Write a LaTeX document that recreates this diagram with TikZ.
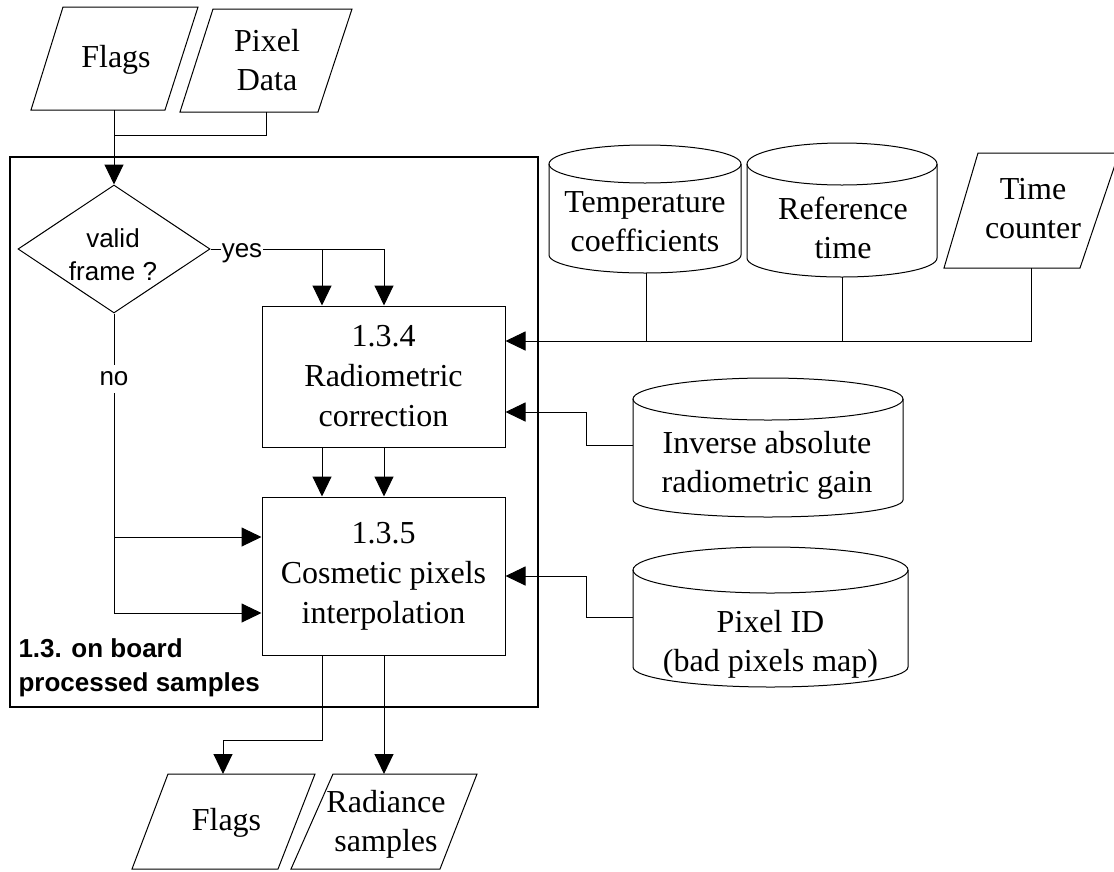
\documentclass[tikz,border=0pt]{standalone}
\usepackage{fontspec}
\setmainfont{Liberation Serif}
\setsansfont{Liberation Sans}
\usetikzlibrary{arrows.meta,shapes.geometric}
\begin{document}
\begin{tikzpicture}[x=1pt,y=-1pt,
  line width=1pt,
  flow/.style={-{Triangle[length=20pt,width=19pt]}},
  procbox/.style={draw, rectangle, inner sep=0pt, minimum width=243pt,
    align=center, font=\fontsize{32}{40}\selectfont},
  serif/.style={align=center, inner sep=0pt, font=\fontsize{32}{39}\selectfont},
  sanstext/.style={align=center, inner sep=0pt, font=\sffamily\fontsize{26}{33}\selectfont},
  decision/.style={draw, diamond, inner sep=0pt, minimum width=192pt, minimum height=128pt},
  gaplabel/.style={fill=white, inner xsep=1pt, inner ysep=7pt,
    font=\sffamily\fontsize{26}{30}\selectfont},
]
\useasboundingbox (0,0) rectangle (1114,871);

% ---- input documents ----
\draw (63,7) -- (198,7) -- (165,110) -- (31,110) -- cycle;
\node[serif] (flagsin) at (116,60) {Flags};
\coordinate (flagsin-s) at (114,110);
\draw (213,9) -- (352,9) -- (318,112) -- (180,112) -- cycle;
\node[serif] (pixdata) at (267,60) {Pixel\\Data};
\coordinate (pixdata-s) at (266,112);
\coordinate (merge) at (114,135);

% ---- processing frame ----
\draw[line width=2.6pt] (10,157) rectangle (538,707);
\node[sanstext, font=\sffamily\bfseries\fontsize{26}{34}\selectfont, align=left, anchor=west]
  (title) at (18,668) {1.3. on board\\processed samples};

\node[decision] (valid) at (114,249) {};
\node[sanstext] (validtxt) at (113,255) {valid\\frame ?};

\node[procbox, minimum height=141pt] (radcorr) at (383.5,376.5) {1.3.4\\Radiometric\\correction};
\node[procbox, minimum height=158pt] (cosmetic) at (383.5,576) {1.3.5\\Cosmetic pixels\\interpolation};

% ---- auxiliary data stores ----
\draw (549,164) -- (549,255) arc[start angle=180,end angle=0,x radius=96,y radius=18] -- (741,164);
\draw (645,164) ellipse[x radius=96,y radius=19];
\node[serif] (tcoef) at (645,221.5) {Temperature\\coefficients};
\coordinate (tcoef-s) at (646,273);

\draw (747,164) -- (747,258) arc[start angle=180,end angle=0,x radius=95,y radius=19] -- (937,164);
\draw (842,164) ellipse[x radius=95,y radius=21];
\node[serif] (reftime) at (843,228) {Reference\\time};
\coordinate (reftime-s) at (842,277);

\draw (978,153) -- (1119,153) -- (1080,268) -- (944,268) -- cycle;
\node[serif] (tcount) at (1033,209) {Time\\counter};
\coordinate (tcount-s) at (1031,268);
\coordinate (bus) at (1031,341);

\draw (633,399) -- (633,500) arc[start angle=180,end angle=0,x radius=135,y radius=17] -- (903,399);
\draw (768,399) ellipse[x radius=135,y radius=21];
\node[serif] (invgain) at (767,465.5) {Inverse absolute\\radiometric gain};
\coordinate (invgain-w) at (633,445);
\coordinate (jogA) at (586,412);

\draw (633,570) -- (633,667) arc[start angle=180,end angle=0,x radius=137.5,y radius=20] -- (908,570);
\draw (770.5,570) ellipse[x radius=137.5,y radius=23];
\node[serif] (pixid) at (770.5,644.5) {Pixel ID\\(bad pixels map)};
\coordinate (pixid-w) at (633,617);
\coordinate (jogB) at (586,576);

% ---- output documents ----
\draw (168,774) -- (315,774) -- (278,869) -- (132,869) -- cycle;
\node[serif] (flagsout) at (226.5,822.5) {Flags};
\coordinate (flagsout-n) at (223,774);
\coordinate (flagsknee) at (223,740);
\draw (333,774) -- (477,774) -- (440,869) -- (291,869) -- cycle;
\node[serif] (radiance) at (386,824) {Radiance\\samples};
\coordinate (radiance-n) at (384,774);

% ---- connectors ----
\draw (pixdata-s) |- (merge);
\draw[flow] (flagsin-s) -- (valid.north);

\coordinate (yesA) at (322,249);
\coordinate (yesB) at (384,249);
\draw (valid.east) -- (yesB);
\node[gaplabel] (yes) at (242,253) {yes};
\draw[flow] (yesA) -- (yesA |- radcorr.north);
\draw[flow] (yesB) -- (yesB |- radcorr.north);

\coordinate (noA) at (114,537);
\coordinate (noB) at (114,613);
\draw (valid.south) -- (noB);
\node[gaplabel] (no) at (114,379) {no};
\draw[flow] (noA) -- (noA -| cosmetic.west);
\draw[flow] (noB) -- (noB -| cosmetic.west);

\draw[flow] (yesA |- radcorr.south) -- (yesA |- cosmetic.north);
\draw[flow] (yesB |- radcorr.south) -- (yesB |- cosmetic.north);

\draw (tcoef-s) -- (tcoef-s |- bus);
\draw (reftime-s) -- (reftime-s |- bus);
\draw[flow] (tcount-s) -- (bus) -- (bus -| radcorr.east);

\draw[flow] (invgain-w) -- (invgain-w -| jogA) -- (jogA) -- (jogA -| radcorr.east);
\draw[flow] (pixid-w) -- (pixid-w -| jogB) -- (jogB) -- (jogB -| cosmetic.east);

\draw[flow] (yesA |- cosmetic.south) |- (flagsknee) -- (flagsout-n);
\draw[flow] (yesB |- cosmetic.south) -- (radiance-n);
\end{tikzpicture}
\end{document}
